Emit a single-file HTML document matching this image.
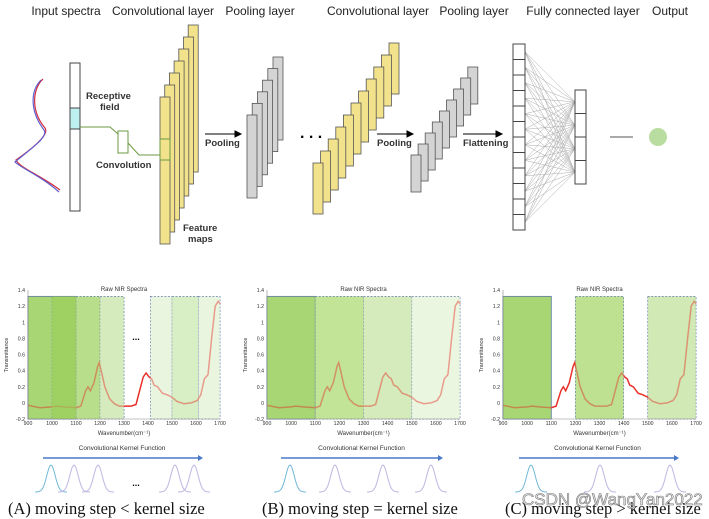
<!DOCTYPE html>
<html><head><meta charset="utf-8"><style>
html,body{margin:0;padding:0;background:#fff}
svg{display:block;font-family:"Liberation Sans",sans-serif}
</style></head><body>
<svg id="s" width="709" height="519" viewBox="0 0 709 519">
<g font-size="12" fill="#222" text-anchor="middle">
<text x="66" y="15">Input spectra</text>
<text x="163" y="15">Convolutional layer</text>
<text x="260" y="15">Pooling layer</text>
<text x="378" y="15">Convolutional layer</text>
<text x="474" y="15">Pooling layer</text>
<text x="583" y="15">Fully connected layer</text>
<text x="670" y="15">Output</text>
</g>
<g fill="none" stroke-width="1.2">
<path d="M43,79 C33,88 30,110 45,128 C50,135 30,150 16,160 C20,168 40,175 60,190" stroke="#d03040"/>
<path d="M41,80 C31,90 29,110 44,130 C49,137 29,150 15,162 C21,168 41,176 59,192" stroke="#6060d0"/>
</g>
<rect x="70" y="63" width="10" height="148" fill="#fff" stroke="#444"/>
<rect x="70" y="108" width="10" height="21" fill="#bff0f0" stroke="#444"/>
<g font-size="9.5" font-weight="bold" fill="#333">
<text x="86" y="99">Receptive</text><text x="100" y="110">field</text>
<text x="96" y="168">Convolution</text>
<text x="183" y="231">Feature</text><text x="188" y="242">maps</text>
<text x="205" y="146">Pooling</text>
<text x="377" y="146">Pooling</text>
<text x="463" y="146">Flattening</text>
</g>
<g stroke="#6a9a40" fill="none">
<polyline points="80,127 110,127 118,134"/>
<rect x="118" y="131" width="10" height="22" fill="#fff"/>
<polyline points="128,143 139,155 163,155"/>
<path d="M160,152 L165,155 L160,158 Z" fill="#6a9a40"/>
</g>
<g id="stacks"></g>
<g stroke="#000">
<line x1="205" y1="134" x2="237" y2="134"/><path d="M235,131 L241,134 L235,137Z"/>
<line x1="377" y1="134" x2="409" y2="134"/><path d="M407,131 L413,134 L407,137Z"/>
<line x1="463" y1="134" x2="498" y2="134"/><path d="M496,131 L502,134 L496,137Z"/>
</g>
<text x="300" y="138" font-size="16" font-weight="bold">. . .</text>
<g id="fc"></g>
<line x1="610" y1="137" x2="633" y2="137" stroke="#555"/>
<circle cx="658" cy="137" r="9" fill="#b9dca0"/>
<g id="charts"></g>
<text x="522" y="505" font-size="17" fill="#e8e8e8" stroke="#777" stroke-width="0.6">CSDN @WangYan2022</text>
</svg>
<script>
const NS="http://www.w3.org/2000/svg";
function mk(p,t,a){const e=document.createElementNS(NS,t);for(const k in a)e.setAttribute(k,a[k]);p.appendChild(e);return e;}
const stacks=document.getElementById('stacks');
const stackDefs=[[160,97,147,7,4.7,-12,'#f2e28c'],[247,115,83,6,5.2,-11.6,'#d4d4d4'],[313,163,51,11,7.6,-12,'#f2e28c'],[411,155,37,9,7.1,-11,'#d4d4d4']];
stackDefs.forEach(([x,y,h,n,dx,dy,c],si)=>{
  for(let i=n-1;i>=0;i--){
    const r=mk(stacks,'rect',{x:x+i*dx,y:y+i*dy,width:10,height:h,fill:c,stroke:'#555','stroke-width':0.8});
    
    
  }
});
const gb=mk(stacks,'rect',{x:160,y:139,width:10,height:21,fill:'none',stroke:'#6a9a40'});


const fc=document.getElementById('fc');
const L=12,R=4,lt=44,lh=186/12,rt=90,rh=94/4;
for(let i=0;i<L;i++)for(let j=0;j<R;j++){
  const ln=mk(fc,'line',{x1:525,y1:lt+lh*(i+.5),x2:575,y2:rt+rh*(j+.5),stroke:'#aaa','stroke-width':0.5});
  
  
}
for(let i=0;i<L;i++){const r=mk(fc,'rect',{x:513,y:lt+lh*i,width:12,height:lh,fill:'#fff',stroke:'#444'});
  
  }
for(let j=0;j<R;j++){const r=mk(fc,'rect',{x:575,y:rt+rh*j,width:11,height:rh,fill:'#fff',stroke:'#444'});
  
  }

// chart data
const wavenumbers=[900,950,1000,1020,1050,1100,1120,1140,1150,1160,1175,1190,1197,1205,1220,1240,1260,1280,1300,1330,1350,1365,1380,1392,1405,1415,1425,1440,1460,1480,1500,1520,1550,1580,1605,1620,1635,1650,1665,1680,1692,1700];
const transmittance=[-0.03,-0.06,-0.05,-0.04,-0.05,-0.06,-0.04,0.15,0.2,0.15,0.25,0.45,0.5,0.4,0.2,0.05,-0.01,-0.04,-0.04,-0.04,-0.02,0.15,0.32,0.37,0.32,0.3,0.22,0.2,0.12,0.1,0.07,0.02,-0.01,0.0,0.03,0.1,0.3,0.35,0.8,1.2,1.26,1.23];
const xTicks=[900,1000,1100,1200,1300,1400,1500,1600,1700];
const yTicks=[-0.2,0,0.2,0.4,0.6,0.8,1,1.2,1.4];
const yTickLabels=['-0.2','0','0.2','0.4','0.6','0.8','1','1.2','1.4'];
const boxesA=[[900,1100,'#a3d46c',1],[1000,1100,'#9ccf5e',0],[1100,1200,'#b4dc84',0],[1200,1300,'#d2e9b8',0],[1410,1500,'#e8f4dc',0],[1500,1610,'#d6ecbf',0],[1610,1700,'#e8f4dc',0]];
const boxesB=[[900,1100,'#a3d46c',1],[1100,1300,'#bde28f',0],[1300,1500,'#d2eab6',0],[1500,1700,'#e9f5dd',0]];
const boxesC=[[900,1100,'#a3d46c',1],[1200,1400,'#b8df88',0],[1500,1700,'#cde7ae',0]];
const kernelA=[51,74,98,175,194];
const kernelB=[290,335,383,431];
const kernelC=[531,600,670];
const charts=document.getElementById('charts');
function chart(name,x0,x1,boxes,peaks,arrow,cap,ell){
  const g=mk(charts,'g',{});
  
  
  const X=v=>x0+(v-900)/800*(x1-x0), Y=v=>419-(v+0.2)/1.6*129;
  boxes.forEach(([a,b,c,solid])=>{
    const r=mk(g,'rect',{x:X(a),y:Y(1.32),width:X(b)-X(a),height:Y(-0.2)-Y(1.32),fill:c,'fill-opacity':0.85,stroke:'#5a70b0','stroke-width':solid?1:0.8,'stroke-dasharray':solid?'':'2,1.5'});
    
    
  });
  const pts=wavenumbers.map((w,i)=>X(w).toFixed(1)+','+Y(transmittance[i]).toFixed(1)).join(' ');
  const ln=mk(g,'polyline',{points:pts,fill:'none',stroke:'#e8302a','stroke-width':1.5});
  
  
  boxes.forEach(([a,b,c])=>{mk(g,'rect',{x:X(a),y:Y(1.32),width:X(b)-X(a),height:Y(-0.2)-Y(1.32),fill:c,'fill-opacity':0.55});});
  mk(g,'line',{x1:x0,y1:Y(-0.2),x2:x1,y2:Y(-0.2),stroke:'#888','stroke-width':0.6});
  mk(g,'line',{x1:x0,y1:Y(-0.2),x2:x0,y2:Y(1.4),stroke:'#888','stroke-width':0.6});
  xTicks.forEach(t=>{const e=mk(g,'text',{x:X(t),y:425,'font-size':5.2,'text-anchor':'middle',fill:'#333'});e.textContent=t;
    });
  yTicks.forEach((t,i)=>{const e=mk(g,'text',{x:x0-3,y:Y(t)+2,'font-size':5.2,'text-anchor':'end',fill:'#333'});e.textContent=yTickLabels[i];
    });
  const tt=mk(g,'text',{x:(x0+x1)/2,y:291,'font-size':6,'text-anchor':'middle',fill:'#333'});tt.textContent='Raw NIR Spectra';
  const xl=mk(g,'text',{x:(x0+x1)/2,y:435,'font-size':6,'text-anchor':'middle',fill:'#333'});xl.textContent='Wavenumber(cm⁻¹)';
  const yl=mk(g,'text',{x:0,y:0,'font-size':5.5,'text-anchor':'middle',fill:'#333',transform:`translate(${x0-20},355) rotate(-90)`});yl.textContent='Transmittance';
  if(ell){const e=mk(g,'text',{x:X(1350),y:Y(0.78),'font-size':9,'font-weight':'bold','text-anchor':'middle'});e.textContent='...';}
  const kt=mk(g,'text',{x:(x0+x1)/2-2,y:450,'font-size':6.5,'text-anchor':'middle',fill:'#333'});kt.textContent='Convolutional Kernel Function';
  mk(g,'line',{x1:arrow[0],y1:458,x2:arrow[1]-4,y2:458,stroke:'#4a78c8','stroke-width':1.6});
  mk(g,'path',{d:`M${arrow[1]-5},455 L${arrow[1]},458 L${arrow[1]-5},461Z`,fill:'#4a78c8'});
  peaks.forEach((p,i)=>{
    let d='';for(let k=-16;k<=16;k++){const x=p+k;const y=492-27*Math.exp(-(k*k)/(2*4.2*4.2));d+=(k==-16?'M':'L')+x+','+y.toFixed(1);}
    const c=mk(g,'path',{d,fill:'none',stroke:i==0?'#70b8d8':'#bdb6e2','stroke-width':1});
    
    
  });
  if(ell){const e=mk(g,'text',{x:136,y:486,'font-size':9,'font-weight':'bold','text-anchor':'middle'});e.textContent='...';}
  const cp=mk(g,'text',{x:cap[0],y:514,'font-size':16.5,fill:'#111','font-family':'"Liberation Serif",serif'});cp.textContent=cap[1];
  
}
chart('chart-a',28,220,boxesA,kernelA,[43,203],[8,'(A) moving step < kernel size'],true);
chart('chart-b',267,460,boxesB,kernelB,[281,443],[262,'(B) moving step = kernel size'],false);
chart('chart-c',503,696,boxesC,kernelC,[519,679],[505,'(C) moving step > kernel size'],false);
</script>
</body></html>
